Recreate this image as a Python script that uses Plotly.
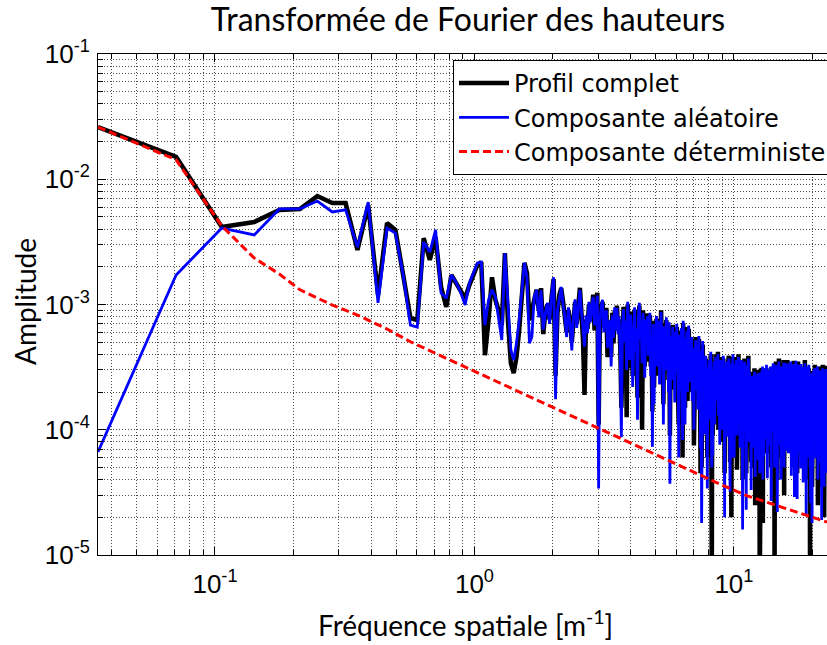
import numpy as np
import plotly.graph_objects as go

# Spectral resolution (m^-1): bin k lies at k * DF
DF = 0.03541

# Amplitude of the full profile spectrum, bins 1..645
amp_complete = [
    2.61e-2, 1.51e-2, 4.16e-3, 4.56e-3, 5.69e-3, 5.79e-3, 7.34e-3, 6.45e-3, 6.45e-3, 2.72e-3,
    6.22e-3, 1.19e-3, 4.48e-3, 3.94e-3, 1.72e-3, 7.80e-4, 7.50e-4, 3.39e-3, 2.27e-3, 3.45e-3,
    1.38e-3, 9.55e-4, 1.72e-3, 1.48e-3, 1.31e-3, 1.12e-3, 1.43e-3, 1.72e-3, 2.07e-3, 2.18e-3,
    3.94e-4, 7.50e-4, 1.65e-3, 1.09e-3, 9.00e-4, 6.85e-4, 2.57e-3, 7.50e-4, 3.40e-4, 2.83e-4,
    3.79e-4, 6.25e-4, 1.24e-3, 2.15e-3, 1.78e-3, 7.50e-4, 9.00e-4, 1.09e-3, 1.31e-3, 9.00e-4,
    1.35e-3, 5.8e-4, 8.8e-4, 1.0e-3, 7.6e-4, 1.15e-3, 1.6e-3, 2.7e-4, 8.6e-4, 1.2e-3,
    1.35e-3, 1.05e-3, 7.4e-4, 6.0e-4, 9.0e-4, 7.5e-4, 5.0e-4, 7.6e-4, 1.05e-3, 7.0e-4,
    9.3e-4, 1.36e-3, 8.5e-4, 5.2e-4, 1.9e-4, 7.6e-4, 6.4e-4, 1.0e-3, 7.8e-4, 9.0e-4,
    1.2e-3, 6.2e-4, 9.6e-4, 1.24e-3, 1.1e-4, 8.0e-4, 9.3e-4, 1.05e-3, 6.6e-4, 8.0e-4,
    9.4e-4, 3.8e-4, 7.3e-4, 7.1e-4, 3.8e-4, 8.6e-4, 4.9e-4, 9.0e-4, 6.8e-4, 9.8e-4,
    6.2e-4, 7.6e-4, 4.6e-4, 1.5e-4, 6.1e-4, 9.6e-4, 4.4e-4, 7.9e-4, 1.26e-4, 1.0e-3,
    6.8e-4, 3.1e-4, 8.8e-4, 5.1e-4, 2.7e-4, 6.6e-4, 9.1e-4, 4.7e-4, 6.0e-4, 1.8e-4,
    8.2e-4, 9.8e-4, 5.8e-4, 6.8e-4, 1.0e-4, 9.0e-4, 5.6e-4, 3.2e-4, 7.1e-4, 5.3e-4,
    8.5e-4, 3.5e-4, 6.3e-4, 8.2e-4, 3.2e-4, 4.6e-4, 1.4e-4, 7.4e-4, 2.2e-4, 5.9e-4,
    4.8e-4, 7.7e-4, 2.7e-4, 5.8e-4, 7.0e-4, 2.8e-4, 4.3e-4, 9.0e-4, 4.1e-4, 5.5e-4,
    1.6e-4, 7.1e-4, 4.8e-4, 3.5e-4, 7.5e-4, 4.5e-4, 5.8e-4, 2.5e-4, 6.8e-4, 9.0e-5,
    5.2e-4, 4.8e-4, 2.1e-4, 6.9e-4, 3.0e-4, 5.6e-4, 2.1e-4, 5.7e-4, 4.2e-4, 6.6e-4,
    3.3e-4, 4.3e-4, 1.1e-4, 6.0e-4, 3.7e-4, 2.5e-4, 6.2e-4, 3.7e-4, 6.0e-5, 7.1e-4,
    3.0e-4, 3.9e-4, 1.5e-4, 5.8e-4, 3.2e-4, 6.6e-4, 1.7e-4, 5.2e-4, 6.4e-4, 3.4e-4,
    5.3e-4, 2.1e-4, 4.0e-4, 5.2e-4, 2.0e-4, 2.9e-4, 4.8e-4, 7.5e-5, 4.4e-4, 2.5e-4,
    5.5e-4, 1.8e-4, 3.8e-4, 4.5e-4, 1.8e-4, 2.7e-4, 5.3e-4, 2.6e-4, 3.5e-4, 4.5e-5,
    4.0e-4, 5.0e-5, 2.2e-4, 4.8e-4, 2.9e-4, 3.1e-4, 1.2e-4, 3.1e-4, 2.4e-4, 3.7e-4,
    1.9e-4, 2.3e-4, 6.0e-5, 3.5e-4, 2.0e-4, 1.5e-4, 3.4e-4, 2.1e-4, 2.5e-4, 4.0e-4,
    1.3e-4, 6.0e-6, 2.6e-4, 9.0e-5, 2.8e-4, 2.3e-4, 3.3e-4, 1.4e-4, 2.4e-4, 4.0e-4,
    1.5e-4, 3.8e-4, 2.1e-4, 2.4e-4, 4.2e-4, 1.0e-4, 2.6e-4, 3.1e-4, 1.1e-4, 2.7e-4,
    3.8e-4, 1.7e-4, 2.2e-4, 3.5e-4, 8.0e-5, 2.3e-4, 3.7e-4, 1.8e-4, 2.4e-4, 4.5e-5,
    3.2e-4, 2.1e-4, 1.6e-4, 3.3e-4, 2.0e-4, 2.6e-4, 1.1e-4, 3.4e-4, 1.8e-4, 3.9e-4,
    1.3e-4, 2.7e-4, 5.5e-5, 2.8e-4, 2.4e-4, 2.0e-5, 3.6e-4, 1.6e-4, 2.9e-4, 3.8e-4,
    1.6e-4, 2.1e-4, 8.5e-5, 3.1e-4, 1.7e-4, 3.5e-4, 1.25e-4, 2.4e-4, 3.8e-4, 4.8e-5,
    3.2e-4, 1.9e-4, 2.3e-4, 4.0e-4, 1.0e-4, 2.4e-4, 2.9e-4, 9.5e-5, 3.0e-4, 1.7e-4,
    2.6e-4, 3.4e-4, 1.4e-4, 2.6e-4, 4.0e-5, 9.0e-5, 3.0e-4, 1.9e-4, 2.4e-4, 3.7e-4,
    8.0e-5, 2.4e-4, 2.8e-4, 1.7e-4, 4.5e-5, 2.9e-4, 1.8e-4, 3.5e-4, 1.1e-4, 2.5e-4,
    3.9e-4, 1.55e-4, 1.05e-4, 2.7e-4, 2.3e-4, 2.3e-4, 1.2e-4, 1.8e-4, 5.5e-5, 2.4e-4,
    1.3e-4, 2.9e-4, 1.3e-4, 1.6e-4, 2.6e-4, 5.0e-5, 2.2e-4, 1.1e-4, 3.1e-4, 1.8e-4,
    2.5e-5, 2.05e-4, 2.0e-4, 2.4e-4, 1.1e-4, 1.9e-4, 1.4e-4, 2.6e-4, 1.85e-4, 8.0e-5,
    1.7e-4, 3.0e-4, 1.15e-4, 2.0e-4, 5.0e-6, 7.5e-5, 2.3e-4, 1.5e-4, 1.8e-4, 3.0e-4,
    3.1e-4, 1.2e-4, 2.3e-4, 3.0e-4, 1.8e-5, 2.1e-4, 2.45e-4, 8.5e-5, 2.2e-4, 1.8e-4,
    2.9e-4, 1.4e-4, 1.8e-4, 3.0e-4, 6.5e-5, 2.0e-4, 3.1e-4, 1.6e-4, 2.0e-4, 6.5e-5,
    2.7e-4, 1.8e-4, 1.3e-4, 2.8e-4, 1.7e-4, 2.15e-4, 1.0e-4, 2.5e-4, 1.9e-4, 3.0e-4,
    1.1e-4, 2.3e-4, 5.0e-5, 2.4e-4, 2.0e-4, 7.5e-5, 3.1e-4, 1.3e-4, 2.5e-4, 3.2e-4,
    2.4e-4, 3.2e-4, 1.3e-4, 2.5e-4, 5.0e-6, 8.5e-5, 2.8e-4, 1.8e-4, 2.25e-4, 3.5e-4,
    7.5e-5, 2.3e-4, 2.65e-4, 1.6e-4, 4.0e-5, 2.75e-4, 1.7e-4, 3.4e-4, 1.0e-4, 2.4e-4,
    3.7e-4, 1.45e-4, 1.0e-4, 2.6e-4, 2.2e-4, 2.8e-4, 1.35e-4, 2.1e-4, 6.0e-5, 2.8e-4,
    1.6e-4, 3.4e-4, 1.5e-4, 1.9e-4, 3.1e-4, 6.5e-5, 2.6e-4, 1.35e-4, 3.6e-4, 2.1e-4,
    3.0e-5, 2.5e-4, 2.4e-4, 2.9e-4, 1.25e-4, 2.3e-4, 1.7e-4, 3.2e-4, 2.2e-4, 9.0e-5,
    2.9e-4, 1.7e-4, 2.1e-4, 3.6e-4, 9.0e-5, 2.2e-4, 2.6e-4, 9.0e-5, 2.7e-4, 1.5e-4,
    3.4e-4, 1.5e-4, 2.0e-4, 3.15e-4, 7.0e-5, 2.1e-4, 3.3e-4, 1.65e-4, 2.2e-4, 6.5e-5,
    2.85e-4, 1.9e-4, 1.4e-4, 3.0e-4, 1.8e-4, 2.3e-4, 1.0e-4, 2.7e-4, 2.0e-4, 3.55e-4,
    1.15e-4, 2.4e-4, 5.0e-5, 2.5e-4, 2.15e-4, 8.0e-5, 3.3e-4, 1.4e-4, 2.6e-4, 3.4e-4,
    1.45e-4, 1.85e-4, 7.5e-5, 2.8e-4, 4.5e-5, 2.8e-4, 1.15e-4, 2.1e-4, 3.5e-4, 1.65e-4,
    9.0e-5, 1.7e-4, 3.5e-4, 1.25e-4, 2.65e-4, 1.2e-4, 2.8e-4, 2.3e-4, 2.4e-4, 7.0e-5,
    2.0e-4, 3.15e-4, 1.7e-4, 2.15e-4, 1.05e-4, 3.0e-4, 1.85e-4, 1.5e-4, 2.95e-4, 1.9e-4,
    2.35e-4, 6.0e-5, 2.5e-4, 9.0e-5, 3.1e-4, 1.75e-4, 2.9e-4, 9.5e-5, 1.4e-4, 3.6e-4,
    1.95e-4, 1.4e-4, 2.9e-4, 2.05e-4, 2.3e-4, 4.0e-5, 1.15e-4, 2.95e-4, 1.8e-4, 1.15e-4,
    3.0e-4, 2.6e-4, 1.35e-4, 3.1e-4, 8.0e-5, 1.55e-4, 2.8e-4, 1.3e-4, 3.1e-4, 2.4e-4,
    2.1e-4, 9.5e-5, 2.8e-4, 1.45e-4, 5.0e-6, 1.45e-4, 1.85e-4, 4.5e-5, 2.7e-4, 1.6e-4,
    1.1e-4, 2.65e-4, 1.65e-4, 2.0e-4, 3.5e-5, 9.5e-5, 2.1e-4, 7.0e-5, 2.2e-4, 1.75e-4,
    2.95e-4, 6.5e-5, 2.3e-4, 2.8e-4, 1.5e-4, 2.6e-4, 1.6e-4, 1.9e-4, 3.3e-4, 1.2e-4,
    1.6e-4, 2.8e-4, 8.0e-5, 2.1e-4, 1.8e-4, 2.8e-4, 1.4e-4, 1.8e-4, 2.9e-4, 6.3e-5,
    1.9e-4, 3.0e-4, 1.5e-4, 2.0e-4, 2.5e-5, 2.65e-4, 1.7e-4, 1.3e-4, 2.7e-4, 1.7e-4,
    1.8e-4, 3.2e-4, 1.2e-4, 2.15e-4, 1.8e-4, 3.5e-5, 2.85e-4, 1.2e-4, 2.4e-4, 2.75e-4,
    1.05e-4, 1.65e-4, 2.7e-4, 1.45e-4, 3.5e-5, 2.1e-4, 1.9e-4, 2.6e-4, 1.3e-4, 1.75e-4,
    3.3e-4, 1.3e-4, 8.5e-5, 2.65e-4, 1.6e-4, 2.9e-4, 8.5e-5, 2.3e-4, 2.0e-5, 2.15e-4,
    1.75e-4, 2.7e-4, 1.4e-4, 1.7e-4, 2.8e-4, 5.5e-5, 2.35e-4, 1.2e-4, 3.25e-4, 1.45e-4,
    6.5e-5, 2.2e-4, 2.1e-4, 2.6e-4, 1.1e-4,
]

# Amplitude of the random component, bins 1..645
amp_random = [
    6.64e-5, 1.72e-3, 4.08e-3, 3.59e-3, 5.79e-3, 5.79e-3, 6.70e-3, 5.48e-3, 5.69e-3, 2.87e-3,
    6.58e-3, 1.03e-3, 4.08e-3, 3.72e-3, 1.72e-3, 6.85e-4, 6.60e-4, 3.15e-3, 2.62e-3, 3.94e-3,
    1.24e-3, 1.12e-3, 1.72e-3, 1.50e-3, 1.24e-3, 9.90e-4, 1.48e-3, 1.82e-3, 2.15e-3, 2.18e-3,
    6.85e-4, 1.09e-3, 1.31e-3, 1.15e-3, 7.50e-4, 5.20e-4, 2.57e-3, 1.15e-3, 4.33e-4, 3.60e-4,
    4.90e-4, 7.50e-4, 1.24e-3, 2.15e-3, 1.65e-3, 4.90e-4, 5.50e-4, 1.15e-3, 1.31e-3, 7.90e-4,
    1.30e-3, 6.3e-4, 8.5e-4, 1.03e-3, 7.0e-4, 1.2e-3, 1.65e-3, 1.75e-4, 9.0e-4, 1.1e-3,
    1.38e-3, 1.0e-3, 7.9e-4, 5.5e-4, 9.5e-4, 7.0e-4, 4.3e-4, 8.0e-4, 1.1e-3, 6.5e-4,
    9.8e-4, 1.31e-3, 8.8e-4, 6.0e-4, 4.6e-4, 8.2e-4, 5.9e-4, 1.05e-3, 7.2e-4, 9.5e-4,
    1.15e-3, 6.8e-4, 9.0e-4, 1.18e-3, 3.4e-5, 7.5e-4, 9.8e-4, 1.09e-3, 6.0e-4, 8.5e-4,
    9.0e-4, 4.5e-4, 6.8e-4, 7.5e-4, 3.2e-4, 8.2e-4, 5.4e-4, 9.5e-4, 6.2e-4, 9.4e-4,
    5.8e-4, 8.0e-4, 4.0e-4, 8.7e-5, 6.6e-4, 9.2e-4, 5.0e-4, 7.4e-4, 3.0e-4, 1.05e-3,
    6.3e-4, 3.6e-4, 8.3e-4, 5.5e-4, 2.2e-4, 7.0e-4, 9.5e-4, 4.2e-4, 6.4e-4, 1.2e-4,
    7.8e-4, 1.03e-3, 5.3e-4, 7.2e-4, 3.4e-4, 8.6e-4, 6.0e-4, 2.6e-4, 7.6e-4, 4.8e-4,
    8.1e-4, 3.9e-4, 5.9e-4, 8.6e-4, 2.7e-4, 5.0e-4, 7.3e-5, 7.0e-4, 1.6e-4, 6.3e-4,
    4.3e-4, 8.1e-4, 3.2e-4, 5.4e-4, 7.4e-4, 2.3e-4, 4.7e-4, 8.7e-4, 3.6e-4, 5.9e-4,
    1.1e-4, 6.7e-4, 5.2e-4, 3.0e-4, 7.9e-4, 4.0e-4, 6.2e-4, 2.0e-4, 7.2e-4, 3.7e-5,
    5.6e-4, 4.4e-4, 2.5e-4, 6.6e-4, 3.4e-4, 5.2e-4, 1.65e-4, 6.0e-4, 3.8e-4, 7.0e-4,
    2.9e-4, 4.7e-4, 6.0e-5, 5.7e-4, 4.1e-4, 2.1e-4, 6.5e-4, 3.3e-4, 8.3e-5, 7.4e-4,
    2.6e-4, 4.3e-4, 1.1e-4, 5.4e-4, 3.5e-4, 6.2e-4, 2.0e-4, 4.8e-4, 6.8e-4, 3.0e-4,
    4.9e-4, 2.4e-4, 3.7e-4, 5.5e-4, 1.7e-4, 3.2e-4, 4.5e-4, 1.0e-4, 4.1e-4, 2.8e-4,
    5.2e-4, 2.1e-4, 3.5e-4, 4.8e-4, 1.45e-4, 3.0e-4, 5.6e-4, 2.3e-4, 3.8e-4, 7.0e-5,
    4.3e-4, 1.8e-5, 1.9e-4, 5.1e-4, 2.6e-4, 2.9e-4, 9.2e-5, 3.4e-4, 2.1e-4, 3.9e-4,
    1.6e-4, 2.6e-4, 3.4e-5, 3.2e-4, 2.3e-4, 1.2e-4, 3.6e-4, 1.85e-4, 2.8e-4, 4.2e-4,
    1.5e-4, 5.0e-5, 2.4e-4, 6.3e-5, 3.0e-4, 2.0e-4, 3.5e-4, 1.1e-4, 2.7e-4, 3.8e-4,
    1.7e-4, 3.6e-4, 1.8e-4, 2.6e-4, 4.0e-4, 1.3e-4, 2.3e-4, 3.3e-4, 7.6e-5, 2.9e-4,
    3.6e-4, 1.45e-4, 2.4e-4, 3.3e-4, 1.0e-4, 2.1e-4, 3.9e-4, 1.6e-4, 2.6e-4, 2.0e-5,
    3.0e-4, 2.3e-4, 1.3e-4, 3.5e-4, 1.8e-4, 2.8e-4, 8.8e-5, 3.2e-4, 2.0e-4, 3.7e-4,
    1.5e-4, 2.5e-4, 3.2e-5, 3.0e-4, 2.2e-4, 6.0e-5, 3.4e-4, 1.8e-4, 2.7e-4, 4.0e-4,
    1.4e-4, 2.3e-4, 6.0e-5, 2.9e-4, 1.9e-4, 3.3e-4, 1.0e-4, 2.6e-4, 3.6e-4, 9.0e-5,
    3.4e-4, 1.7e-4, 2.5e-4, 3.8e-4, 1.2e-4, 2.2e-4, 3.1e-4, 7.2e-5, 2.8e-4, 1.9e-4,
    2.4e-4, 3.6e-4, 1.2e-4, 2.8e-4, 1.6e-5, 6.5e-5, 3.2e-4, 1.7e-4, 2.6e-4, 3.5e-4,
    1.0e-4, 2.2e-4, 3.0e-4, 1.5e-4, 2.3e-5, 2.7e-4, 2.0e-4, 3.3e-4, 1.3e-4, 2.3e-4,
    3.7e-4, 1.75e-4, 8.0e-5, 2.9e-4, 2.1e-4, 2.5e-4, 9.6e-5, 2.0e-4, 3.3e-5, 2.2e-4,
    1.5e-4, 2.7e-4, 1.1e-4, 1.8e-4, 2.4e-4, 7.2e-5, 2.0e-4, 1.3e-4, 2.9e-4, 1.6e-4,
    4.2e-5, 2.25e-4, 1.8e-4, 2.6e-4, 8.7e-5, 2.1e-4, 1.2e-4, 2.8e-4, 1.65e-4, 5.7e-5,
    1.9e-4, 2.85e-4, 9.3e-5, 2.2e-4, 4.5e-5, 5.0e-5, 2.5e-4, 1.3e-4, 2.0e-4, 2.8e-4,
    2.9e-4, 1.4e-4, 2.1e-4, 3.2e-4, 4.0e-5, 1.9e-4, 2.65e-4, 6.1e-5, 2.4e-4, 1.6e-4,
    3.1e-4, 1.2e-4, 2.0e-4, 2.8e-4, 8.5e-5, 1.8e-4, 3.3e-4, 1.4e-4, 2.2e-4, 4.1e-5,
    2.5e-4, 2.0e-4, 1.1e-4, 3.0e-4, 1.5e-4, 2.35e-4, 7.5e-5, 2.7e-4, 1.7e-4, 3.2e-4,
    1.3e-4, 2.1e-4, 2.7e-5, 2.6e-4, 1.8e-4, 9.5e-5, 2.9e-4, 1.5e-4, 2.3e-4, 3.4e-4,
    2.2e-4, 3.4e-4, 1.1e-4, 2.7e-4, 5.0e-5, 6.1e-5, 3.0e-4, 1.6e-4, 2.45e-4, 3.3e-4,
    9.7e-5, 2.1e-4, 2.85e-4, 1.4e-4, 2.2e-5, 2.55e-4, 1.9e-4, 3.2e-4, 1.2e-4, 2.2e-4,
    3.5e-4, 1.65e-4, 7.6e-5, 2.8e-4, 2.0e-4, 3.0e-4, 1.15e-4, 2.3e-4, 4.0e-5, 2.6e-4,
    1.8e-4, 3.2e-4, 1.3e-4, 2.1e-4, 2.9e-4, 8.6e-5, 2.4e-4, 1.55e-4, 3.45e-4, 1.9e-4,
    5.0e-5, 2.7e-4, 2.2e-4, 3.1e-4, 1.05e-4, 2.5e-4, 1.5e-4, 3.4e-4, 2.0e-4, 6.8e-5,
    3.1e-4, 1.5e-4, 2.3e-4, 3.4e-4, 1.1e-4, 2.0e-4, 2.8e-4, 6.5e-5, 2.5e-4, 1.7e-4,
    3.2e-4, 1.3e-4, 2.2e-4, 2.95e-4, 9.0e-5, 1.9e-4, 3.5e-4, 1.45e-4, 2.4e-4, 4.3e-5,
    2.65e-4, 2.1e-4, 1.2e-4, 3.2e-4, 1.6e-4, 2.5e-4, 7.9e-5, 2.9e-4, 1.8e-4, 3.35e-4,
    1.35e-4, 2.2e-4, 2.9e-5, 2.7e-4, 1.95e-4, 1.0e-4, 3.1e-4, 1.6e-4, 2.4e-4, 3.55e-4,
    1.25e-4, 2.05e-4, 5.4e-5, 2.6e-4, 2.8e-5, 3.0e-4, 9.4e-5, 2.3e-4, 3.3e-4, 1.45e-4,
    6.6e-5, 1.9e-4, 3.3e-4, 1.45e-4, 2.45e-4, 1.0e-4, 3.0e-4, 2.1e-4, 2.6e-4, 4.9e-5,
    1.8e-4, 3.35e-4, 1.5e-4, 2.35e-4, 8.4e-5, 2.8e-4, 2.05e-4, 1.3e-4, 3.15e-4, 1.7e-4,
    2.55e-4, 3.8e-5, 2.3e-4, 1.1e-4, 2.9e-4, 1.95e-4, 2.7e-4, 7.4e-5, 1.6e-4, 3.4e-4,
    2.15e-4, 1.2e-4, 3.1e-4, 1.85e-4, 2.5e-4, 2.1e-5, 1.35e-4, 2.75e-4, 2.0e-4, 9.5e-5,
    3.2e-4, 2.4e-4, 1.55e-4, 2.9e-4, 6.0e-5, 1.75e-4, 2.6e-4, 1.1e-4, 3.3e-4, 2.2e-4,
    2.3e-4, 7.3e-5, 2.6e-4, 1.65e-4, 5.0e-5, 1.25e-4, 2.05e-4, 2.6e-5, 2.5e-4, 1.8e-4,
    9.2e-5, 2.85e-4, 1.45e-4, 2.2e-4, 1.8e-5, 1.15e-4, 1.9e-4, 5.0e-5, 2.4e-4, 1.55e-4,
    2.75e-4, 8.6e-5, 2.1e-4, 3.0e-4, 1.3e-4, 2.8e-4, 1.4e-4, 2.1e-4, 3.1e-4, 9.9e-5,
    1.8e-4, 2.6e-4, 5.9e-5, 2.3e-4, 1.6e-4, 3.0e-4, 1.2e-4, 2.0e-4, 2.7e-4, 8.3e-5,
    1.7e-4, 3.2e-4, 1.3e-4, 2.2e-4, 4.0e-5, 2.45e-4, 1.9e-4, 1.1e-4, 2.9e-4, 1.5e-4,
    2.0e-4, 3.0e-4, 1.0e-4, 2.35e-4, 1.6e-4, 5.4e-5, 2.65e-4, 1.4e-4, 2.2e-4, 2.95e-4,
    8.6e-5, 1.85e-4, 2.5e-4, 1.25e-4, 1.9e-5, 2.3e-4, 1.7e-4, 2.8e-4, 1.1e-4, 1.95e-4,
    3.1e-4, 1.5e-4, 6.7e-5, 2.45e-4, 1.8e-4, 2.7e-4, 1.0e-4, 2.1e-4, 3.5e-5, 2.35e-4,
    1.55e-4, 2.9e-4, 1.2e-4, 1.9e-4, 2.6e-4, 7.7e-5, 2.15e-4, 1.4e-4, 3.05e-4, 1.65e-4,
    4.5e-5, 2.4e-4, 1.9e-4, 2.8e-4, 9.3e-5,
]

# Deterministic component: smooth curve, given at selected bins
det_bins = [1, 2, 3, 4, 5, 6, 8, 10, 13, 16, 20, 25, 32, 40, 50, 64, 80, 100,
            128, 160, 200, 256, 320, 400, 500, 645]
amp_deterministic = [2.61e-2, 1.43e-2, 4.24e-3, 2.35e-3, 1.75e-3, 1.31e-3, 9.9e-4,
                     8.24e-4, 6.37e-4, 5.04e-4, 4.07e-4, 3.29e-4, 2.60e-4, 2.10e-4,
                     1.70e-4, 1.35e-4, 1.09e-4, 8.79e-5, 6.95e-5, 5.61e-5, 4.54e-5,
                     3.59e-5, 2.95e-5, 2.53e-5, 2.18e-5, 1.83e-5]

# Axis ticks
x_major = [0.1, 1, 10]
x_major_text = ["10<sup>-1</sup>", "10<sup>0</sup>", "10<sup>1</sup>"]
y_major = [1e-5, 1e-4, 1e-3, 1e-2, 1e-1]
y_major_text = ["10<sup>-5</sup>", "10<sup>-4</sup>", "10<sup>-3</sup>",
                "10<sup>-2</sup>", "10<sup>-1</sup>"]
x_minor = [m * d for d in (0.01, 0.1, 1, 10) for m in range(2, 10)]
y_minor = [m * d for d in (1e-5, 1e-4, 1e-3, 1e-2) for m in range(2, 10)]

freq_complete = DF * np.arange(1, len(amp_complete) + 1)
freq_random = DF * np.arange(1, len(amp_random) + 1)
freq_det = DF * np.array(det_bins)

fig = go.Figure()
fig.add_trace(go.Scatter(x=freq_complete, y=amp_complete, mode="lines",
                         name="Profil complet",
                         line=dict(color="black", width=4.5)))
fig.add_trace(go.Scatter(x=freq_random, y=amp_random, mode="lines",
                         name="Composante aléatoire",
                         line=dict(color="#0000ff", width=2.8)))
fig.add_trace(go.Scatter(x=freq_det, y=amp_deterministic, mode="lines",
                         name="Composante déterministe",
                         line=dict(color="#ff0000", width=3, dash="8px,4px")))

L, T, R, B = 98, 54, 0, 90
W, H = 827, 645
pw, ph = W - L - R, H - T - B

grid = dict(showgrid=True, gridcolor="rgba(0,0,0,0.7)", gridwidth=1, griddash="1px,2px")
tick_font = dict(family="Liberation Sans, Arial, sans-serif", size=26, color="black")

fig.update_xaxes(
    type="log",
    range=[np.log10(freq_complete[0]), np.log10(freq_complete[-1])],
    tickmode="array", tickvals=x_major, ticktext=x_major_text,
    ticks="inside", ticklen=8, tickwidth=1, tickcolor="black",
    showline=True, linecolor="black", linewidth=1, mirror="allticks",
    zeroline=False, tickfont=tick_font, ticklabelstandoff=6,
    minor=dict(tickmode="array", tickvals=x_minor, ticks="inside", ticklen=5,
               tickcolor="black", **grid),
    **grid,
)
fig.update_yaxes(
    type="log",
    range=[-5, -1],
    tickmode="array", tickvals=y_major, ticktext=y_major_text,
    ticks="inside", ticklen=8, tickwidth=1, tickcolor="black",
    showline=True, linecolor="black", linewidth=1, mirror=False,
    zeroline=False, tickfont=tick_font, ticklabelstandoff=2,
    minor=dict(tickmode="array", tickvals=y_minor, ticks="inside", ticklen=5,
               tickcolor="black", **grid),
    **grid,
)

label_font = dict(family="Lato, sans-serif", size=28, color="black")
fig.update_layout(
    width=W, height=H,
    margin=dict(l=L, r=R, t=T, b=B, autoexpand=False),
    paper_bgcolor="white", plot_bgcolor="white",
    title=dict(text="Transformée de Fourier des hauteurs",
               x=468 / W, xref="container", xanchor="center",
               y=1 - 20 / H, yref="container", yanchor="middle",
               font=dict(family="Lato, sans-serif", size=32, color="black")),
    legend=dict(x=(453 - L) / pw, y=1 - (60 - T) / ph, xanchor="left", yanchor="top",
                bgcolor="white", bordercolor="black", borderwidth=1,
                font=dict(family="DejaVu Sans, sans-serif", size=24, color="black"),
                itemwidth=50, tracegroupgap=0),
    annotations=[
        dict(text="Fréquence spatiale [m<sup>-1</sup>]", xref="paper", yref="paper",
             x=(465 - L) / pw, y=-(623 - (T + ph)) / ph, xanchor="center",
             yanchor="middle", showarrow=False, font=label_font),
        dict(text="Amplitude", xref="paper", yref="paper", textangle=-90,
             x=(25 - L) / pw, y=((T + ph) - 302) / ph, xanchor="center",
             yanchor="middle", showarrow=False, font=label_font),
    ],
)

fig.write_html("out.html")
